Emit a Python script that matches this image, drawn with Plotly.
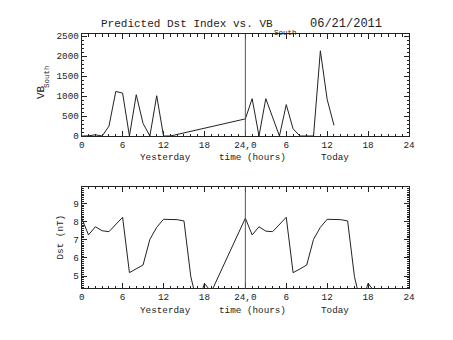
import plotly.graph_objects as go

# ---- data -------------------------------------------------------------
# hours counted from 00:00 yesterday (24 = 00:00 today)
vb_hours = [0, 1, 2, 3, 4, 5, 6, 7, 8, 9, 10, 11, 12, 13,
            24, 25, 26, 27, 29, 30, 31, 32, 33, 34, 35, 36, 37]
vb_south = [0, 5, 30, 0, 247, 1114, 1072, 0, 1032, 314, 0, 1007, 0, 0,
            428, 933, 0, 933, 0, 784, 181, 0, 0, 0, 2130, 916, 265]

dst_hours = [0, 1, 2, 3, 4, 6, 7, 8, 9, 10, 11, 12, 13, 14, 15, 16, 17, 18, 19,
             24, 25, 26, 27, 28, 30, 31, 32, 33, 34, 35, 36, 37, 38, 39, 40, 41, 42, 43]
dst_vals = [8.18, 7.26, 7.71, 7.49, 7.44, 8.23, 5.19, 5.39, 5.61, 7.02, 7.68,
            8.12, 8.12, 8.10, 8.03, 4.97, 3.40, 4.60, 4.13,
            8.18, 7.26, 7.71, 7.47, 7.44, 8.23, 5.19, 5.39, 5.61, 7.02, 7.68,
            8.12, 8.12, 8.10, 8.03, 4.97, 3.40, 4.60, 4.13]

x_tickvals = [0, 6, 12, 18, 24, 30, 36, 42, 48]
x_ticktext = ["0", "6", "12", "18", "24,0", "6", "12", "18", "24"]
vb_ticks = [0, 500, 1000, 1500, 2000, 2500]
dst_ticks = [5, 6, 7, 8, 9]

title_main = "Predicted Dst Index vs. VB"
title_sub = "South"
title_date = "06/21/2011"

# ---- layout helpers ---------------------------------------------------
W, H = 453, 340
FONT = "Liberation Mono"
INK = "#222222"


def px(x):
    return x / W


def py(y):
    return 1 - y / H


x_dom = [px(81.7), px(409)]
top_dom = [py(136), py(34)]
bot_dom = [py(288.3), py(186.7)]

fig = go.Figure()

fig.add_trace(go.Scatter(x=vb_hours, y=vb_south, mode="lines",
                         line=dict(color=INK, width=1), xaxis="x", yaxis="y",
                         showlegend=False, hoverinfo="skip"))
fig.add_trace(go.Scatter(x=dst_hours, y=dst_vals, mode="lines",
                         line=dict(color=INK, width=1), xaxis="x2", yaxis="y2",
                         showlegend=False, hoverinfo="skip", cliponaxis=True))

common_x = dict(
    range=[0, 48], tickvals=x_tickvals, ticktext=x_ticktext,
    ticks="inside", ticklen=5, tickwidth=1, tickcolor=INK,
    minor=dict(dtick=1, tick0=0, ticks="inside", ticklen=2.5, tickcolor=INK),
    showline=True, linecolor=INK, linewidth=1, mirror="allticks",
    showgrid=False, zeroline=False, domain=x_dom,
    tickfont=dict(family=FONT, size=9.3, color=INK), automargin=False,
)
common_y = dict(
    ticks="inside", ticklen=5, tickwidth=1, tickcolor=INK,
    showline=True, linecolor=INK, linewidth=1, mirror="allticks",
    showgrid=False, zeroline=False,
    tickfont=dict(family=FONT, size=9.3, color=INK), automargin=False,
)

fig.update_layout(
    width=W, height=H,
    margin=dict(l=0, r=0, t=0, b=0),
    paper_bgcolor="white", plot_bgcolor="white",
    xaxis=dict(anchor="y", **common_x),
    xaxis2=dict(anchor="y2", **common_x),
    yaxis=dict(anchor="x", domain=top_dom, range=[0, 2550], tickvals=vb_ticks,
               minor=dict(dtick=100, ticks="inside", ticklen=2.5, tickcolor=INK),
               **common_y),
    yaxis2=dict(anchor="x2", domain=bot_dom, range=[4.33, 9.91], tickvals=dst_ticks,
                minor=dict(dtick=0.1, ticks="inside", ticklen=2.5, tickcolor=INK),
                **common_y),
    showlegend=False,
)

# midnight divider in both panels
for xr, yr in (("x", "y"), ("x2", "y2")):
    fig.add_shape(type="line", xref=xr, yref=yr + " domain", x0=24, x1=24, y0=0, y1=1,
                  line=dict(color="#555555", width=1))


def label(text, x, y, size, xanchor="center", angle=0):
    fig.add_annotation(text=text, x=px(x), y=py(y), xref="paper", yref="paper",
                       showarrow=False, xanchor=xanchor, yanchor="middle",
                       textangle=angle, font=dict(family=FONT, size=size, color=INK))


# title with subscripted "South"
label(title_main, 99, 24, 11, xanchor="left")
label(title_sub, 272, 33.5, 7.5, xanchor="left")
label(title_date, 308, 24, 12, xanchor="left")

# y-axis titles
label("VB", 41, 92, 11, angle=-90)
label("South", 47.5, 76.5, 7.5, angle=-90)
label("Dst (nT)", 60, 237.5, 9.3, angle=-90)

# x-axis captions under each panel
for yy in (157.3, 310.7):
    label("Yesterday", 165, yy, 9.3)
    label("time (hours)", 253, yy, 9.3)
    label("Today", 334.7, yy, 9.3)

fig.write_html("out.html")
